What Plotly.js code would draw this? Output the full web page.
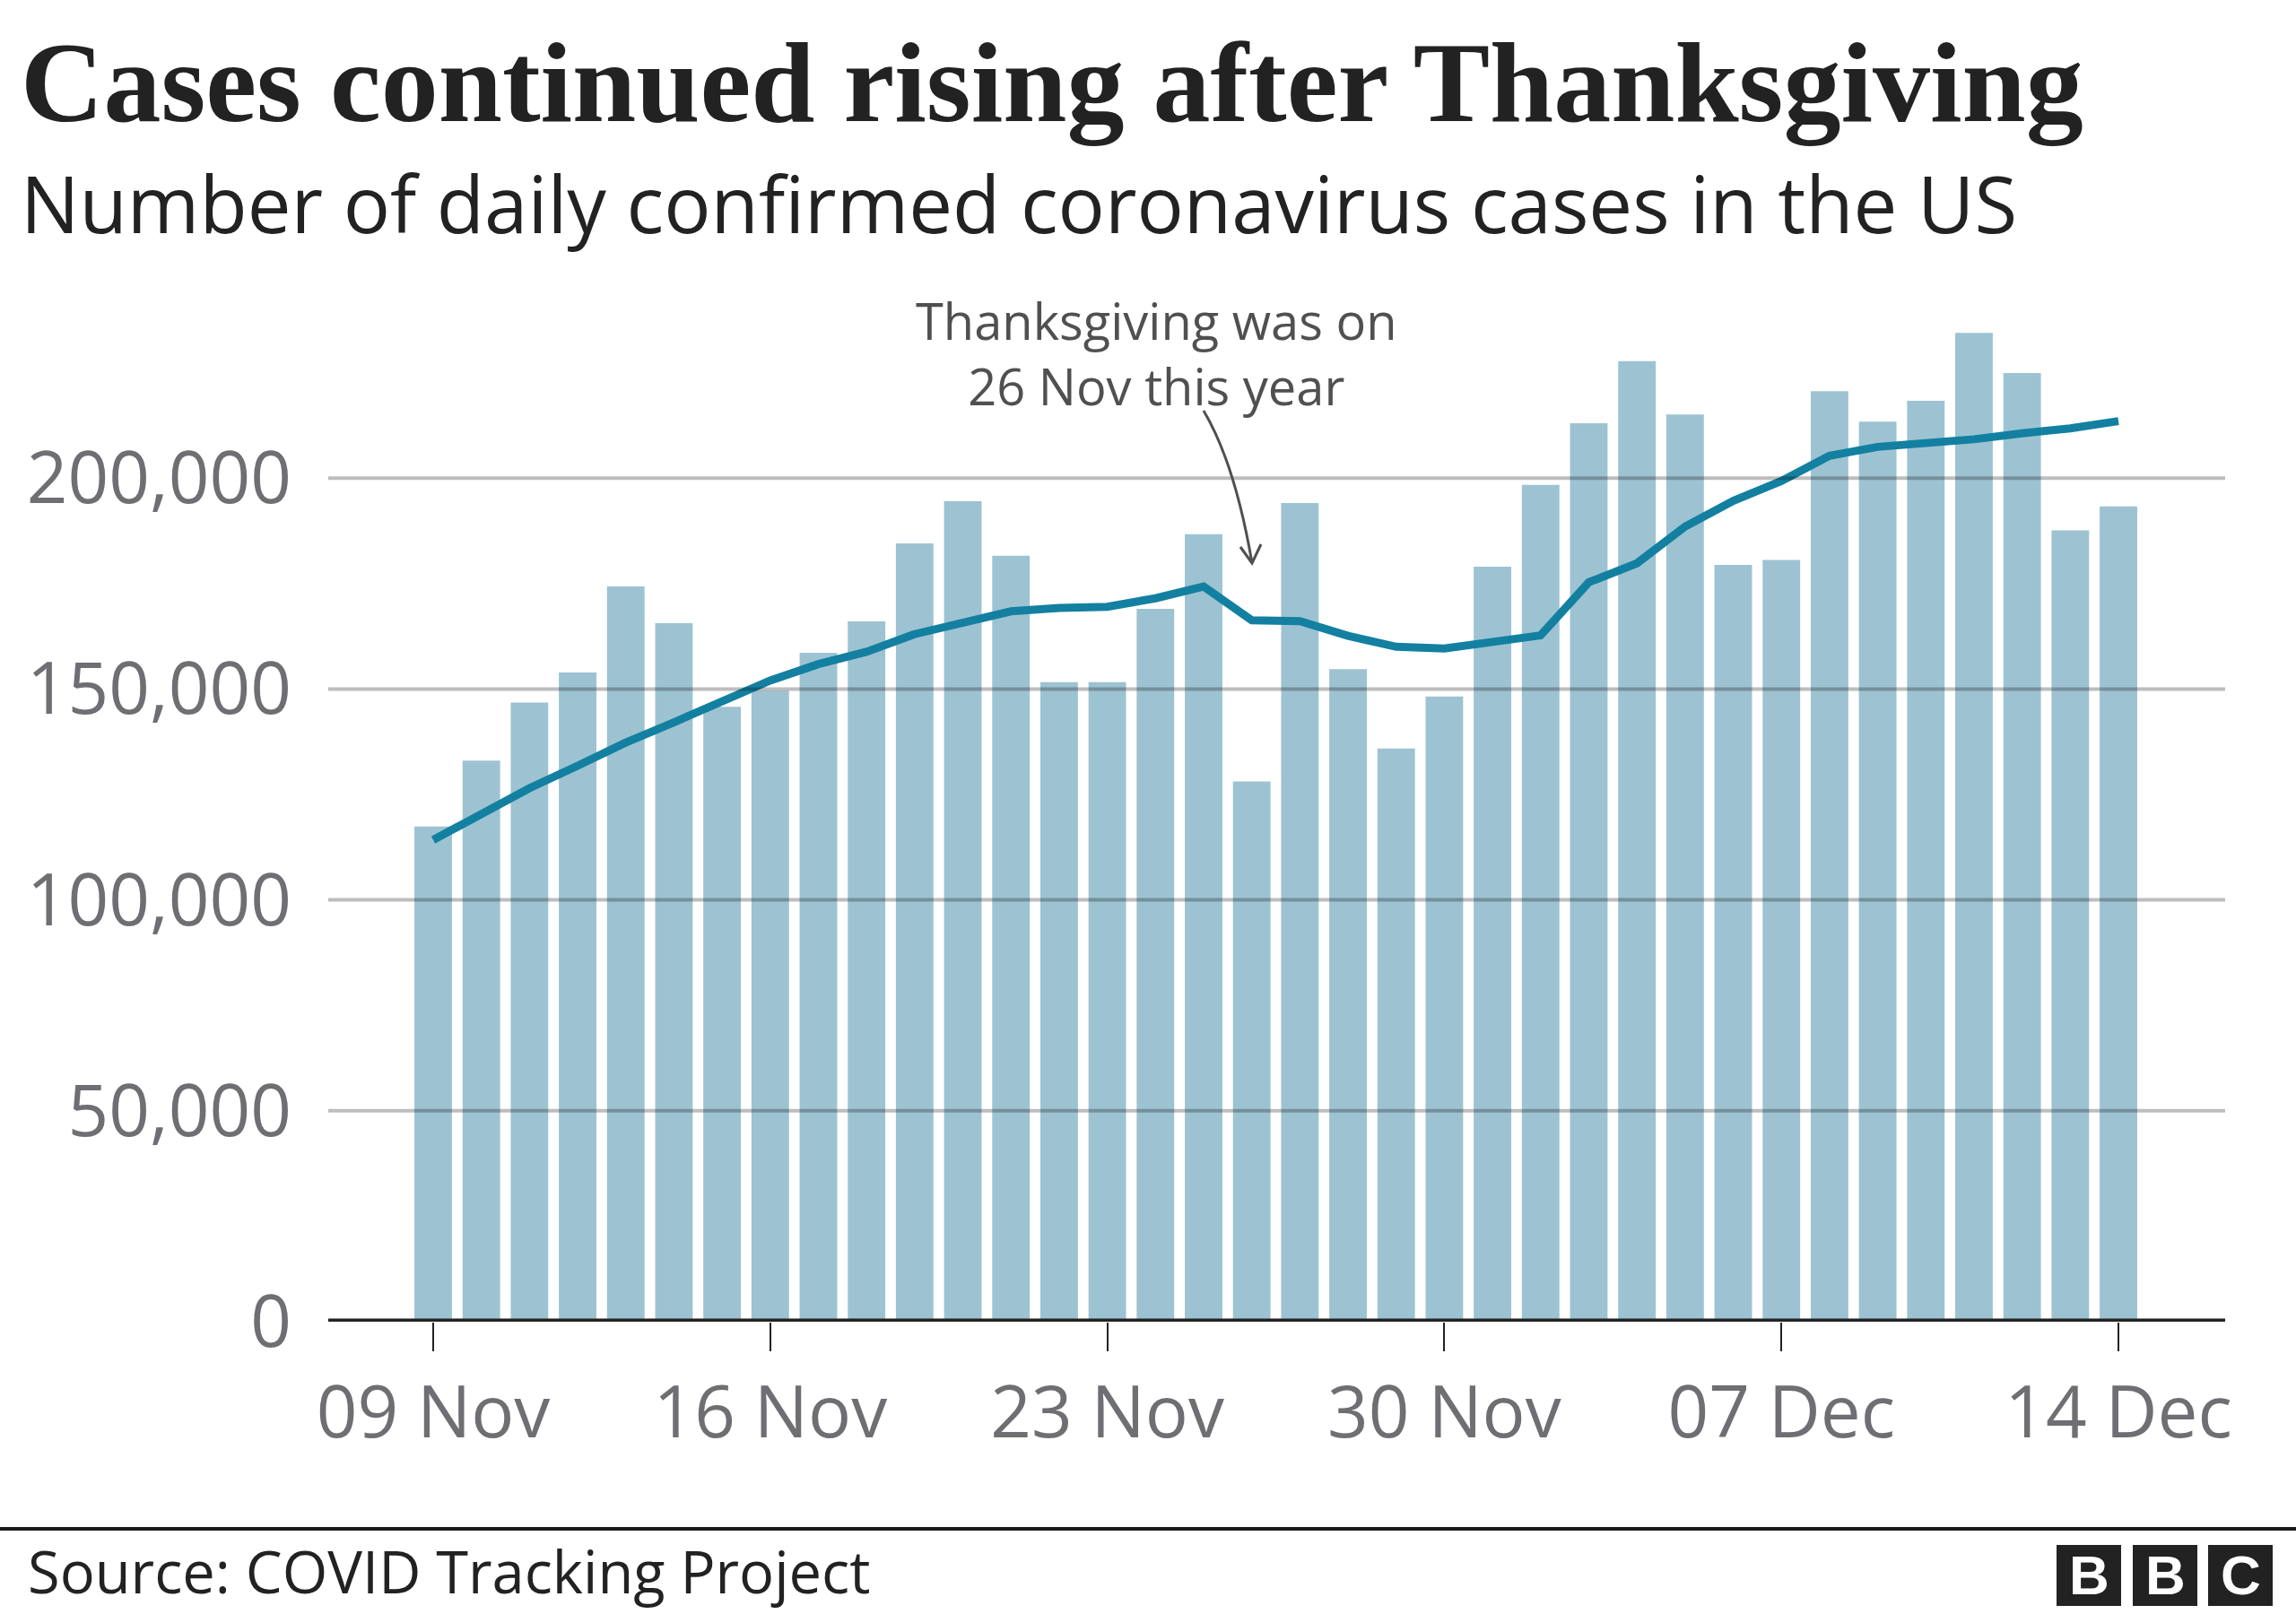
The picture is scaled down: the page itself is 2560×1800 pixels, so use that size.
<!DOCTYPE html>
<html>
<head>
<meta charset="utf-8">
<script src="https://cdn.plot.ly/plotly-3.0.1.min.js"></script>
<style>
  html, body { margin: 0; padding: 0; background: #ffffff; }
  #chart { width: 2560px; height: 1800px; }
</style>
</head>
<body>
<div id="chart"></div>
<script>
// ---------------- data ----------------
const dates = [
  '2020-11-09','2020-11-10','2020-11-11','2020-11-12','2020-11-13','2020-11-14','2020-11-15',
  '2020-11-16','2020-11-17','2020-11-18','2020-11-19','2020-11-20','2020-11-21','2020-11-22',
  '2020-11-23','2020-11-24','2020-11-25','2020-11-26','2020-11-27','2020-11-28','2020-11-29',
  '2020-11-30','2020-12-01','2020-12-02','2020-12-03','2020-12-04','2020-12-05','2020-12-06',
  '2020-12-07','2020-12-08','2020-12-09','2020-12-10','2020-12-11','2020-12-12','2020-12-13',
  '2020-12-14'
];
const dailyCases = [
  117400, 133000, 146800, 153900, 174300, 165600, 145800,
  149600, 158600, 166000, 184500, 194500, 181600, 151600,
  151600, 169000, 186700, 128100, 194100, 154700, 135900,
  148200, 179000, 198400, 213000, 227700, 215100, 179400,
  180600, 220600, 213400, 218300, 234400, 224900, 187600,
  193300
];
const sevenDayAverage = [
  114200, 120300, 126500, 131800, 137300, 142100, 147000,
  152000, 155900, 158800, 163000, 165900, 168400, 169200,
  169500, 171500, 174300, 166300, 166100, 162600, 160000,
  159600, 161000, 162700, 175300, 179800, 188500, 194600,
  199300, 205300, 207400, 208200, 209200, 210600, 211800,
  213500
];
const yTickValues = [0, 50000, 100000, 150000, 200000];
const titleText = 'Cases continued rising after Thanksgiving';
const subtitleText = 'Number of daily confirmed coronavirus cases in the US';
const noteLines = ['Thanksgiving was on', '26 Nov this year'];
const sourceText = 'Source: COVID Tracking Project';
const logoLetters = ['B', 'B', 'C'];

// ---------------- geometry helpers (pixel -> paper) ----------------
const L = 366, R = 2481, T = 345, B = 1474;
const px = x => (x - L) / (R - L);
const py = y => (B - y) / (B - T);

const SANS = 'Open Sans, Noto Sans, sans-serif';
const SERIF = 'Liberation Serif, DejaVu Serif, serif';

const traces = [
  {
    type: 'bar',
    x: dates,
    y: dailyCases,
    marker: { color: '#9dc3d2', line: { width: 0 } },
    hoverinfo: 'skip'
  },
  {
    type: 'scatter',
    mode: 'lines',
    x: dates,
    y: sevenDayAverage,
    line: { color: '#1380a1', width: 9 },
    hoverinfo: 'skip'
  }
];

const shapes = [];
// gridlines drawn above the bars (semi-transparent)
yTickValues.filter(v => v > 0).forEach(v => {
  shapes.push({
    type: 'line', layer: 'above', xref: 'paper', yref: 'y',
    x0: 0, x1: 1, y0: v, y1: v,
    line: { color: 'rgba(0,0,0,0.26)', width: 4 }
  });
});
// baseline axis line
shapes.push({
  type: 'line', layer: 'above', xref: 'paper', yref: 'y',
  x0: 0, x1: 1, y0: 0, y1: 0,
  line: { color: '#222222', width: 7 }
});
// curved annotation arrow
shapes.push({
  type: 'path', layer: 'above', xref: 'paper', yref: 'paper',
  path: `M ${px(1342)} ${py(458)} Q ${px(1377)} ${py(517)} ${px(1396)} ${py(628)} ` +
        `M ${px(1383)} ${py(610)} L ${px(1396)} ${py(628)} L ${px(1406)} ${py(607)}`,
  line: { color: '#505050', width: 3 }
});
// footer rule
shapes.push({
  type: 'line', layer: 'above', xref: 'paper', yref: 'paper',
  x0: px(0), x1: px(2560), y0: py(1705), y1: py(1705),
  line: { color: '#1a1a1a', width: 4 }
});
// BBC logo blocks
const blockLeft = [2293, 2378, 2462];
blockLeft.forEach(x => {
  shapes.push({
    type: 'rect', layer: 'above', xref: 'paper', yref: 'paper',
    x0: px(x), x1: px(x + 72), y0: py(1791), y1: py(1723),
    fillcolor: '#222222', line: { width: 0 }
  });
});

const annotations = [
  {
    xref: 'paper', yref: 'paper', x: px(21), y: py(92), xanchor: 'left', yanchor: 'middle',
    text: '<b>' + titleText + '</b>', showarrow: false,
    font: { family: SERIF, size: 128, color: '#222222' }
  },
  {
    xref: 'paper', yref: 'paper', x: px(21), y: py(226), xanchor: 'left', yanchor: 'middle',
    text: subtitleText, showarrow: false,
    font: { family: SANS, size: 87, color: '#222222' }
  },
  {
    xref: 'paper', yref: 'paper', x: px(1289), y: py(393), xanchor: 'center', yanchor: 'middle',
    text: noteLines.join('<br>'), showarrow: false, align: 'center',
    font: { family: SANS, size: 56, color: '#505050' }
  },
  {
    xref: 'paper', yref: 'paper', x: px(29), y: py(1752), xanchor: 'left', yanchor: 'middle',
    text: sourceText, showarrow: false,
    font: { family: SANS, size: 65, color: '#222222' }
  }
];
logoLetters.forEach((ch, i) => {
  annotations.push({
    xref: 'paper', yref: 'paper', x: px(blockLeft[i] + 36), y: py(1756), xanchor: 'center', yanchor: 'middle',
    text: '<b>' + ch + '</b>', showarrow: false,
    font: { family: 'Liberation Sans, Arial, sans-serif', size: 62, color: '#ffffff' }
  });
});

const layout = {
  width: 2560,
  height: 1800,
  margin: { l: L, r: 2560 - R, t: T, b: 1800 - B, pad: 0 },
  paper_bgcolor: '#ffffff',
  plot_bgcolor: '#ffffff',
  showlegend: false,
  bargap: 0.22,
  xaxis: {
    type: 'date',
    range: ['2020-11-06 19:42', '2020-12-16 05:11'],
    tick0: '2020-11-09',
    dtick: 7 * 24 * 3600 * 1000,
    tickformat: '%d %b',
    ticks: 'outside',
    ticklen: 32,
    tickwidth: 2,
    tickcolor: '#222222',
    showgrid: false,
    zeroline: false,
    showline: false,
    tickfont: { family: SANS, size: 80, color: '#6e6e73' },
    fixedrange: true
  },
  yaxis: {
    range: [0, 240000],
    tickvals: yTickValues,
    tickformat: ',d',
    ticks: '',
    ticklabelstandoff: 40,
    showgrid: false,
    zeroline: false,
    showline: false,
    tickfont: { family: SANS, size: 80, color: '#6e6e73' },
    fixedrange: true
  },
  shapes: shapes,
  annotations: annotations
};

Plotly.newPlot('chart', traces, layout, { displayModeBar: false, staticPlot: true });
</script>
</body>
</html>
